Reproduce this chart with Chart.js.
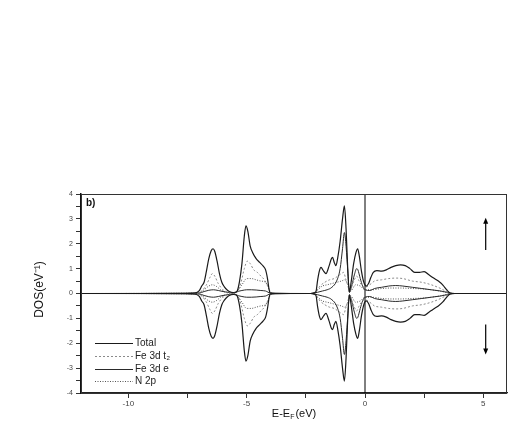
<!DOCTYPE html>
<html>
<head>
<meta charset="utf-8">
<script src="https://cdn.jsdelivr.net/npm/chart.js@4"></script>
<style>
  html, body { margin: 0; padding: 0; background: #fff; }
  canvas { display: block; }
</style>
</head>
<body>
<canvas id="dosChart" width="518" height="436"></canvas>
<script>
// energies (eV, relative to E_F) and spin-up DOS; spin-down is drawn mirrored
const totalE = [
  -12, -7.6, -7.2, -7.0, -6.9, -6.8, -6.7, -6.6, -6.5, -6.42,
  -6.35, -6.25, -6.15, -6.05, -5.95, -5.8, -5.65, -5.5, -5.4, -5.3,
  -5.2, -5.1, -5.03, -4.95, -4.85, -4.75, -4.6, -4.45, -4.3, -4.2,
  -4.12, -4.05, -4.0, -3.8, -2.3, -2.08, -2.0, -1.93, -1.86, -1.75,
  -1.65, -1.52, -1.42, -1.37, -1.3, -1.23, -1.15, -1.05, -0.95, -0.87,
  -0.8, -0.73, -0.66, -0.58, -0.48, -0.38, -0.31, -0.24, -0.15, -0.05,
  0.05, 0.15, 0.25, 0.35, 0.5, 0.7, 0.9, 1.1, 1.3, 1.5,
  1.7, 1.9, 2.1, 2.3, 2.5, 2.7, 2.9, 3.1, 3.3, 3.45,
  3.6, 3.8, 6
];
const totalDos = [
  0, 0, 0.02, 0.12, 0.3, 0.45, 0.9, 1.4, 1.72, 1.8,
  1.7, 1.3, 0.8, 0.45, 0.28, 0.12, 0.05, 0.03, 0.1, 0.5,
  1.2, 2.3, 2.72, 2.5, 1.9, 1.65, 1.4, 1.25, 1.1, 0.95,
  0.6, 0.15, 0.02, 0, 0, 0.05, 0.55, 0.9, 1.05, 0.9,
  0.8, 1.1, 1.4, 1.45, 1.25, 1.12, 1.45, 2.1, 3.0, 3.52,
  2.6, 1.0, 0.05, 0.5, 1.2, 1.65, 1.8, 1.5, 0.9, 0.45,
  0.3, 0.4, 0.65, 0.85, 0.92, 0.9, 0.95, 1.05, 1.12, 1.15,
  1.12, 1.0, 0.85, 0.85, 0.88, 0.75, 0.62, 0.5, 0.33, 0.15,
  0.02, 0, 0
];

const t2E = [
  -12, -7.2, -6.9, -6.7, -6.55, -6.45, -6.35, -6.2, -6.0, -5.8,
  -5.6, -5.4, -5.25, -5.1, -4.97, -4.85, -4.7, -4.55, -4.4, -4.25,
  -4.1, -4.0, -3.8, -2.3, -2.05, -1.9, -1.7, -1.5, -1.3, -1.15,
  -1.0, -0.9, -0.82, -0.72, -0.66, -0.55, -0.45, -0.35, -0.25, -0.1,
  0.0, 0.2, 0.4, 0.7, 1.0, 1.3, 1.6, 2.0, 2.4, 2.8,
  3.2, 3.5, 3.7, 6
];
const t2Dos = [
  0, 0.01, 0.1, 0.35, 0.65, 0.8, 0.7, 0.4, 0.15, 0.05,
  0.02, 0.05, 0.4, 1.0, 1.3, 1.2, 0.95, 0.85, 0.7, 0.55,
  0.3, 0.05, 0, 0, 0.1, 0.3, 0.45, 0.55, 0.6, 0.7,
  0.8, 0.85, 0.6, 0.3, 0.05, 0.3, 0.55, 0.7, 0.5, 0.3,
  0.25, 0.35, 0.5, 0.55, 0.6, 0.62, 0.6, 0.5, 0.45, 0.35,
  0.2, 0.05, 0, 0
];

const eE = [
  -12, -7.0, -6.8, -6.6, -6.4, -6.2, -6.0, -5.8, -5.6, -5.4,
  -5.2, -5.0, -4.8, -4.6, -4.4, -4.2, -4.0, -2.3, -2.0, -1.8,
  -1.6, -1.4, -1.2, -1.05, -0.95, -0.87, -0.8, -0.72, -0.66, -0.55,
  -0.45, -0.35, -0.3, -0.2, -0.1, 0.0, 0.2, 0.4, 0.7, 1.0,
  1.3, 1.6, 2.0, 2.4, 2.8, 3.2, 3.5, 3.7, 6
];
const eDos = [
  0, 0.02, 0.08, 0.13, 0.15, 0.12, 0.08, 0.05, 0.03, 0.08,
  0.12, 0.15, 0.15, 0.14, 0.12, 0.1, 0.02, 0, 0.05, 0.1,
  0.15, 0.25, 0.5, 1.0, 1.8, 2.45, 1.9, 0.8, 0.05, 0.35,
  0.75, 1.0, 0.95, 0.6, 0.3, 0.15, 0.12, 0.2, 0.25, 0.3,
  0.32, 0.3, 0.25, 0.2, 0.15, 0.1, 0.04, 0, 0
];

const n2pE = [
  -12, -7.1, -6.8, -6.6, -6.45, -6.3, -6.1, -5.9, -5.6, -5.4,
  -5.2, -5.0, -4.8, -4.6, -4.4, -4.2, -4.05, -3.9, -2.3, -2.0,
  -1.8, -1.6, -1.4, -1.2, -1.0, -0.85, -0.7, -0.6, -0.4, -0.2,
  0.0, 0.3, 0.7, 1.1, 1.5, 2.0, 2.5, 3.0, 3.4, 3.6,
  6
];
const n2pDos = [
  0, 0.02, 0.15, 0.3, 0.35, 0.3, 0.15, 0.05, 0.02, 0.1,
  0.35, 0.6, 0.6, 0.55, 0.5, 0.45, 0.15, 0, 0, 0.15,
  0.3, 0.35, 0.4, 0.45, 0.5, 0.55, 0.3, 0.1, 0.35, 0.3,
  0.15, 0.15, 0.2, 0.22, 0.22, 0.2, 0.18, 0.12, 0.05, 0,
  0
];

const seriesNames = ['Total', 'Fe 3d t\u2082', 'Fe 3d e', 'N 2p'];
const xTickValues = [-10, -7.5, -5, -2.5, 0, 2.5, 5];
const xTickLabels = [-10, -5, 0, 5];
const fermiLine = [{ x: 0, y: -4 }, { x: 0, y: 4 }];
const upArrow = { x: 5.1, from: 1.75, to: 3.05 };
const downArrow = { x: 5.1, from: -1.25, to: -2.45 };

const FONT = "'Liberation Sans', Arial, sans-serif";

const styles = [
  { color: '#1a1a1a', width: 1.2, dash: [] },
  { color: '#8a8a8a', width: 1, dash: [2, 2] },
  { color: '#2a2a2a', width: 1, dash: [] },
  { color: '#555555', width: 1, dash: [1, 1.5] }
];

function pts(xs, ys, sign) {
  return xs.map((x, i) => ({ x: x, y: sign * ys[i] }));
}

const curves = [
  [totalE, totalDos], [t2E, t2Dos], [eE, eDos], [n2pE, n2pDos]
];

const datasets = [];
curves.forEach(([xs, ys], i) => {
  [1, -1].forEach(sign => {
    datasets.push({
      label: seriesNames[i] + (sign > 0 ? ' up' : ' down'),
      data: pts(xs, ys, sign),
      borderColor: styles[i].color,
      borderWidth: styles[i].width,
      borderDash: styles[i].dash,
      pointRadius: 0,
      fill: false,
      cubicInterpolationMode: 'monotone'
    });
  });
});
datasets.push({
  label: 'E_F',
  data: fermiLine,
  borderColor: '#000',
  borderWidth: 1,
  pointRadius: 0,
  tension: 0
});

function drawArrow(ctx, x, y0, y1) {
  const dir = y1 < y0 ? -1 : 1;
  ctx.beginPath();
  ctx.moveTo(x, y0);
  ctx.lineTo(x, y1 - dir * 5);
  ctx.stroke();
  ctx.beginPath();
  ctx.moveTo(x, y1);
  ctx.lineTo(x - 2.5, y1 - dir * 6);
  ctx.lineTo(x + 2.5, y1 - dir * 6);
  ctx.closePath();
  ctx.fill();
}

const decorations = {
  id: 'decorations',
  afterDraw(chart) {
    const ctx = chart.ctx;
    const a = chart.chartArea;
    const xs = chart.scales.x, ys = chart.scales.y;
    ctx.save();

    // frame
    ctx.strokeStyle = '#333';
    ctx.lineWidth = 1;
    ctx.strokeRect(a.left + 0.5, a.top + 0.5, a.right - a.left - 1, a.bottom - a.top);

    // panel label
    ctx.fillStyle = '#111';
    ctx.font = 'bold 10px ' + FONT;
    ctx.textBaseline = 'middle';
    ctx.textAlign = 'left';
    ctx.fillText('b)', a.left + 5, a.top + 9);

    // spin arrows
    ctx.strokeStyle = '#000';
    ctx.fillStyle = '#000';
    ctx.lineWidth = 1.2;
    drawArrow(ctx, xs.getPixelForValue(upArrow.x), ys.getPixelForValue(upArrow.from), ys.getPixelForValue(upArrow.to));
    drawArrow(ctx, xs.getPixelForValue(downArrow.x), ys.getPixelForValue(downArrow.from), ys.getPixelForValue(downArrow.to));

    // legend
    const rows = [a.bottom - 50, a.bottom - 37, a.bottom - 24, a.bottom - 12];
    ctx.font = '10px ' + FONT;
    seriesNames.forEach((name, i) => {
      const y = rows[i];
      ctx.strokeStyle = styles[i].color;
      ctx.lineWidth = 1;
      ctx.setLineDash(styles[i].dash);
      ctx.beginPath();
      ctx.moveTo(a.left + 14, y + 0.5);
      ctx.lineTo(a.left + 52, y + 0.5);
      ctx.stroke();
      ctx.setLineDash([]);
      ctx.fillStyle = '#222';
      ctx.fillText(name, a.left + 54, y);
    });

    // x title with subscript F
    ctx.fillStyle = '#111';
    const cx = (a.left + a.right) / 2;
    const ty = a.bottom + 21;
    ctx.font = '11px ' + FONT;
    const p1 = 'E-E', p3 = '(eV)';
    const w1 = ctx.measureText(p1).width;
    const w3 = ctx.measureText(p3).width;
    ctx.font = '7px ' + FONT;
    const w2 = ctx.measureText('F').width;
    let x0 = cx - (w1 + w2 + w3 + 1) / 2;
    ctx.font = '11px ' + FONT;
    ctx.fillText(p1, x0, ty);
    ctx.font = '7px ' + FONT;
    ctx.fillText('F', x0 + w1, ty + 3);
    ctx.font = '11px ' + FONT;
    ctx.fillText(p3, x0 + w1 + w2 + 1, ty);

    // y title
    ctx.translate(40, (a.top + a.bottom) / 2 - 4);
    ctx.rotate(-Math.PI / 2);
    ctx.textAlign = 'center';
    ctx.font = '12px ' + FONT;
    ctx.fillText('DOS(eV\u207B\u00B9)', 0, 0);
    ctx.restore();
  }
};

new Chart(document.getElementById('dosChart'), {
  type: 'line',
  data: { datasets: datasets },
  options: {
    responsive: false,
    animation: false,
    events: [],
    layout: { padding: { top: 194, right: 11, left: 0, bottom: 0 } },
    plugins: { legend: { display: false }, tooltip: { enabled: false } },
    scales: {
      x: {
        type: 'linear',
        min: -12,
        max: 6,
        afterBuildTicks: s => { s.ticks = xTickValues.map(v => ({ value: v })); },
        afterFit: s => { s.height = 43; },
        grid: { drawOnChartArea: false, drawTicks: true, tickLength: 5, color: '#333' },
        border: { display: true, color: '#222', width: 1.2 },
        ticks: {
          autoSkip: false,
          maxRotation: 0,
          padding: 1,
          color: '#444',
          font: { family: FONT, size: 8 },
          callback: v => xTickLabels.includes(v) ? String(v) : ''
        }
      },
      y: {
        type: 'linear',
        min: -4,
        max: 4,
        afterFit: s => { s.width = 81; },
        grid: { drawOnChartArea: false, drawTicks: true, tickLength: 5, color: '#333' },
        border: { display: true, color: '#111', width: 1.5 },
        ticks: {
          stepSize: 0.5,
          padding: 3,
          color: '#444',
          font: { family: FONT, size: 7 },
          callback: v => Number.isInteger(v) ? String(v) : ''
        }
      }
    }
  },
  plugins: [decorations]
});
</script>
</body>
</html>
